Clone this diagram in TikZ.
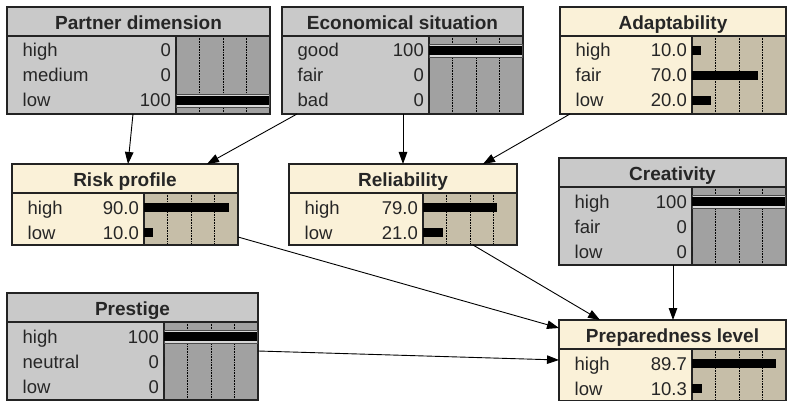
\documentclass[tikz,border=0pt]{standalone}
\usepackage{fontspec}
\setmainfont{Liberation Sans}
\usetikzlibrary{arrows.meta,calc}
\definecolor{yelfill}{RGB}{250,241,216}
\definecolor{yelbar}{RGB}{198,190,168}
\definecolor{gryfill}{RGB}{201,201,201}
\definecolor{grybar}{RGB}{161,161,161}
\definecolor{boxline}{RGB}{35,35,35}
\definecolor{evlight}{RGB}{215,215,215}

% one node of the net: frame, title, bar area with grid
\newcommand{\cptbox}[7]{%
  \node[frame,fill=#7fill,minimum width=#4pt,minimum height={(29+26*#5)*1pt}] (#1) at (#2,#3) {};
  \coordinate (#1-bar) at ($(#1.north east)+(-94,29)$);
  \fill[#7bar] (#1-bar) rectangle (#1.south east);
  \foreach \k in {1,2,3}
    \draw[grid] ($(#1-bar)+(23.5*\k,0)$) -- ($(#1.south east)+(-94+23.5*\k,0)$);
  \draw[rule] ($(#1.north west)+(0,29)$) -- ($(#1.north east)+(0,29)$);
  \draw[rule] (#1-bar) -- ($(#1.south east)+(-94,0)$);
  \draw[rule] (#1.north west) rectangle (#1.south east);
  \node[title] (#1-title) at ($(#1.north)+(0,22.5)$) {#6};
}
% one state: box, row, name, value, bar length in percent
\newcommand{\cptrow}[5]{%
  \pgfmathsetmacro\rowc{14.5+25*(#2-1)}
  \node[lab] (#1-s#2) at ($(#1.north west)+(15.5,29+\rowc+6.5)$) {#3};
  \node[val] (#1-v#2) at ($(#1-bar)+(-5,\rowc+6.5)$) {#4};
  \fill ($(#1-bar)+(0,\rowc-4.5)$) rectangle ++({0.94*#5},9);
}
% observed state
\newcommand{\cptev}[2]{%
  \pgfmathsetmacro\rowc{14.5+25*(#2-1)}
  \filldraw[evbar] ($(#1-bar)+(0,\rowc-6.5)$) rectangle ($(#1-bar)+(93.4,\rowc+6.5)$);
  \fill ($(#1-bar)+(0,\rowc-4.5)$) rectangle ($(#1-bar)+(93.4,\rowc+4.5)$);
}

\begin{document}
\begin{tikzpicture}[x=1pt,y=-1pt,>={Triangle[length=12pt,width=8.5pt]},
  frame/.style={draw=boxline,line width=1.2pt,anchor=north west,inner sep=0pt,outer sep=0pt},
  rule/.style={boxline,line width=1.2pt},
  grid/.style={densely dotted,line width=0.6pt,black},
  title/.style={font=\fontsize{19}{21}\selectfont\bfseries,text=black!85,anchor=base,inner sep=0pt},
  lab/.style={font=\fontsize{18.5}{20}\selectfont,text=black!85,anchor=base west,inner sep=0pt},
  val/.style={lab,anchor=base east},
  evbar/.style={fill=evlight,draw=black!70,line width=0.6pt},
  link/.style={->,line width=0.9pt}]
  \useasboundingbox (0,0) rectangle (787,401);

  \cptbox{partner}{7}{7}{263}{3}{Partner dimension}{gry}
  \cptrow{partner}{1}{high}{0}{0}
  \cptrow{partner}{2}{medium}{0}{0}
  \cptrow{partner}{3}{low}{100}{0}
  \cptev{partner}{3}

  \cptbox{economy}{282}{7}{241}{3}{Economical situation}{gry}
  \cptrow{economy}{1}{good}{100}{0}
  \cptrow{economy}{2}{fair}{0}{0}
  \cptrow{economy}{3}{bad}{0}{0}
  \cptev{economy}{1}

  \cptbox{adapt}{560}{7}{226}{3}{Adaptability}{yel}
  \cptrow{adapt}{1}{high}{10.0}{10}
  \cptrow{adapt}{2}{fair}{70.0}{70}
  \cptrow{adapt}{3}{low}{20.0}{20}

  \cptbox{risk}{12}{164}{226}{2}{Risk profile}{yel}
  \cptrow{risk}{1}{high}{90.0}{90}
  \cptrow{risk}{2}{low}{10.0}{10}

  \cptbox{reliab}{289}{164}{228}{2}{Reliability}{yel}
  \cptrow{reliab}{1}{high}{79.0}{79}
  \cptrow{reliab}{2}{low}{21.0}{21}

  \cptbox{creat}{559}{158}{227}{3}{Creativity}{gry}
  \cptrow{creat}{1}{high}{100}{0}
  \cptrow{creat}{2}{fair}{0}{0}
  \cptrow{creat}{3}{low}{0}{0}
  \cptev{creat}{1}

  \cptbox{prestige}{7}{293}{251}{3}{Prestige}{gry}
  \cptrow{prestige}{1}{high}{100}{0}
  \cptrow{prestige}{2}{neutral}{0}{0}
  \cptrow{prestige}{3}{low}{0}{0}
  \cptev{prestige}{1}

  \cptbox{prep}{559}{320}{227}{2}{Preparedness level}{yel}
  \cptrow{prep}{1}{high}{89.7}{89.7}
  \cptrow{prep}{2}{low}{10.3}{10.3}

  % links
  \draw[link] ($(partner.south west)+(126,0)$) -- ($(risk.north west)+(116,0)$);
  \draw[link] ($(economy.south west)+(15,0)$) -- ($(risk.north west)+(195,0)$);
  \draw[link] ($(economy.south west)+(121,0)$) -- ($(reliab.north west)+(114,0)$);
  \draw[link] ($(adapt.south west)+(10,0)$) -- ($(reliab.north west)+(194,0)$);
  \draw[link] ($(risk.south east)+(0,-8)$) -- ($(prep.north west)+(0,8)$);
  \draw[link] ($(reliab.south west)+(184,0)$) -- ($(prep.north west)+(41,0)$);
  \draw[link] ($(creat.south west)+(114,0)$) -- ($(prep.north west)+(114,0)$);
  \draw[link] ($(prestige.north east)+(0,58)$) -- ($(prep.north west)+(0,40)$);
\end{tikzpicture}
\end{document}
